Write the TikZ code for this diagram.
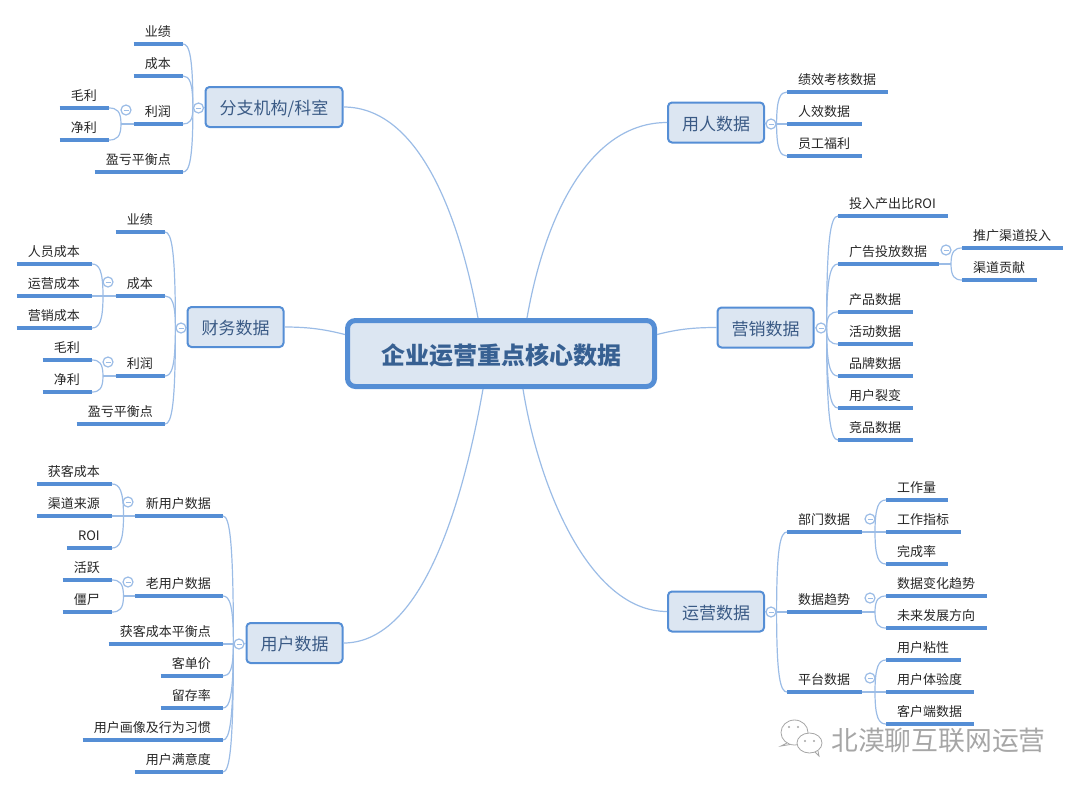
\documentclass[tikz,border=0pt]{standalone}
\usepackage{fontspec}
\setmainfont{Noto Sans CJK SC}
\usetikzlibrary{calc}
\definecolor{linkblue}{HTML}{9BBCE6}
\definecolor{ruleblue}{HTML}{558ED5}
\definecolor{boxfill}{HTML}{DCE6F2}
\definecolor{boxtext}{HTML}{3A5A85}
\definecolor{maintext}{HTML}{376092}
\definecolor{leaftext}{HTML}{262626}
\definecolor{markgray}{HTML}{A6A6A6}
\newcommand{\foldbar}{\rule{5pt}{1pt}}

\begin{document}
\begin{tikzpicture}[x=1pt,y=-1pt,
  core/.style={draw=ruleblue,fill=boxfill,line width=5pt,rounded corners=8pt,minimum width=307pt,minimum height=66pt,inner sep=0pt,text height=22pt,text depth=0pt,text=maintext,font=\fontsize{24}{28}\selectfont\bfseries},
  box/.style={draw=ruleblue,fill=boxfill,line width=2pt,rounded corners=4pt,minimum height=40pt,inner sep=0pt,text height=15pt,text depth=0pt,text=boxtext,font=\fontsize{17}{20}\selectfont},
  leaf/.style={inner xsep=11pt,inner ysep=0pt,text height=12pt,text depth=7.5pt,text=leaftext,font=\fontsize{13}{15}\selectfont,execute at end node={\hspace{1pt}},
    append after command={(\tikzlastnode.south west) edge[rule] (\tikzlastnode.south east)}},
  lleaf/.style={leaf,anchor=south east},
  rleaf/.style={leaf,anchor=south west},
  rule/.style={draw=ruleblue,line width=3.2pt},
  fold/.style={circle,draw=linkblue,fill=white,line width=1.2pt,minimum size=10pt,inner sep=0pt,text=linkblue},
  link/.style={draw=linkblue,line width=1.2pt},
  fork/.style={to path={.. controls ($(\tikztostart)!.8!(\tikztostart |- \tikztotarget)$) and ($(\tikztotarget)!.65!(\tikztostart |- \tikztotarget)$) .. (\tikztotarget)}}]
\useasboundingbox (0,0) rectangle (1080,788);

\node[core] (main) at (501,353.5) {企业运营重点核心数据};

\node[box,minimum width=137pt] (branch) at (274,107) {分支机构/科室};
\node[fold] (fBranch) at (198.5,108) {\foldbar};
\node[lleaf] (brSales) at (183,44) {业绩};
\node[lleaf] (brCost) at (183,76) {成本};
\node[lleaf] (brProfit) at (183,124) {利润};
\node[lleaf] (brBreak) at (183,172) {盈亏平衡点};
\node[fold] (fBrProfit) at (126,110) {\foldbar};
\coordinate (jBrProfit) at (121,124);
\node[lleaf] (brGross) at (109,108) {毛利};
\node[lleaf] (brNet) at (109,140) {净利};

\node[box,minimum width=96pt] (finance) at (235.5,327) {财务数据};
\node[fold] (fFinance) at (181,328) {\foldbar};
\node[lleaf] (fiSales) at (165,232) {业绩};
\node[lleaf] (fiCost) at (165,296) {成本};
\node[lleaf] (fiProfit) at (165,376) {利润};
\node[lleaf] (fiBreak) at (165,424) {盈亏平衡点};
\node[fold] (fFiCost) at (108,282) {\foldbar};
\coordinate (jFiCost) at (103,296);
\node[lleaf] (fiStaff) at (92,264) {人员成本};
\node[lleaf] (fiOper) at (92,296) {运营成本};
\node[lleaf] (fiMarket) at (92,328) {营销成本};
\node[fold] (fFiProfit) at (108,362) {\foldbar};
\coordinate (jFiProfit) at (103,376);
\node[lleaf] (fiGross) at (92,360) {毛利};
\node[lleaf] (fiNet) at (92,392) {净利};

\node[box,minimum width=96pt] (user) at (294.5,643) {用户数据};
\node[fold] (fUser) at (239,644) {\foldbar};
\node[lleaf] (usNew) at (223,516) {新用户数据};
\node[lleaf] (usOld) at (223,596) {老用户数据};
\node[lleaf] (usBalance) at (223,644) {获客成本平衡点};
\node[lleaf] (usPrice) at (223,676) {客单价};
\node[lleaf] (usKeep) at (223,708) {留存率};
\node[lleaf] (usHabit) at (223,740) {用户画像及行为习惯};
\node[lleaf] (usSatis) at (223,772) {用户满意度};
\node[fold] (fUsNew) at (128,502) {\foldbar};
\coordinate (jUsNew) at (123.5,516);
\node[lleaf] (usAcq) at (112,484) {获客成本};
\node[lleaf] (usSource) at (112,516) {渠道来源};
\node[lleaf] (usRoi) at (112,548) {ROI};
\node[fold] (fUsOld) at (128,582) {\foldbar};
\coordinate (jUsOld) at (123.5,596);
\node[lleaf] (usActive) at (112,580) {活跃};
\node[lleaf] (usZombie) at (112,612) {僵尸};

\node[box,minimum width=96pt] (staff) at (716,122.5) {用人数据};
\node[fold] (fStaff) at (771,124) {\foldbar};
\node[rleaf] (stPerf) at (787,92) {绩效考核数据};
\node[rleaf] (stEffect) at (787,124) {人效数据};
\node[rleaf] (stWelfare) at (787,156) {员工福利};

\node[box,minimum width=96pt] (market) at (765.5,327.5) {营销数据};
\node[fold] (fMarket) at (821,328) {\foldbar};
\node[rleaf] (maRoi) at (838,216) {投入产出比ROI};
\node[rleaf] (maAds) at (838,264) {广告投放数据};
\node[rleaf] (maProduct) at (838,312) {产品数据};
\node[rleaf] (maEvent) at (838,344) {活动数据};
\node[rleaf] (maBrand) at (838,376) {品牌数据};
\node[rleaf] (maFission) at (838,408) {用户裂变};
\node[rleaf] (maRival) at (838,440) {竞品数据};
\node[fold] (fMaAds) at (946,250) {\foldbar};
\coordinate (jMaAds) at (951,264);
\node[rleaf] (maInvest) at (962,248) {推广渠道投入};
\node[rleaf] (maShare) at (962,280) {渠道贡献};

\node[box,minimum width=96pt] (oper) at (716,611.5) {运营数据};
\node[fold] (fOper) at (771,612) {\foldbar};
\node[rleaf] (opDept) at (787,532) {部门数据};
\node[rleaf] (opTrend) at (787,612) {数据趋势};
\node[rleaf] (opPlat) at (787,692) {平台数据};
\node[fold] (fOpDept) at (870,519) {\foldbar};
\coordinate (jOpDept) at (875,532);
\node[rleaf] (opLoad) at (886,500) {工作量};
\node[rleaf] (opIndex) at (886,532) {工作指标};
\node[rleaf] (opDone) at (886,564) {完成率};
\node[fold] (fOpTrend) at (870,598) {\foldbar};
\coordinate (jOpTrend) at (875,612);
\node[rleaf] (opChange) at (886,596) {数据变化趋势};
\node[rleaf] (opFuture) at (886,628) {未来发展方向};
\node[fold] (fOpPlat) at (870,678) {\foldbar};
\coordinate (jOpPlat) at (875,692);
\node[rleaf] (opStick) at (886,660) {用户粘性};
\node[rleaf] (opExp) at (886,692) {用户体验度};
\node[rleaf] (opClient) at (886,724) {客户端数据};

\draw[link] (branch.east) .. controls +(77,0) and +(-18,-98) .. ([xshift=-23pt]main.north);
\draw[link] (finance.east) .. controls +(25,0) and +(-20,-5) .. ([yshift=19pt]main.west);
\draw[link] (user.east) .. controls +(82,0) and +(-18,102) .. ([xshift=-18pt]main.south);
\draw[link] (staff.west) .. controls +(-77,0) and +(18,-103) .. ([xshift=26pt]main.north);
\draw[link] (market.west) .. controls +(-25,0) and +(20,-5) .. ([yshift=19pt]main.east);
\draw[link] (oper.west) .. controls +(-77,0) and +(16,100) .. ([xshift=22pt]main.south);

\foreach \from/\to/\kids in {branch.west/fBranch/{brSales,brCost,brProfit,brBreak},finance.west/fFinance/{fiSales,fiCost,fiProfit,fiBreak},user.west/fUser/{usNew,usOld,usBalance,usPrice,usKeep,usHabit,usSatis}}{
  \draw[link] (\from) -- (\to.east);
  \foreach \kid in \kids
    \draw[link] (\to.west) to[fork] (\kid.south east);
}
\foreach \from/\to/\kids in {staff.east/fStaff/{stPerf,stEffect,stWelfare},market.east/fMarket/{maRoi,maAds,maProduct,maEvent,maBrand,maFission,maRival},oper.east/fOper/{opDept,opTrend,opPlat}}{
  \draw[link] (\from) -- (\to.west);
  \foreach \kid in \kids
    \draw[link] (\to.east) to[fork] (\kid.south west);
}
\foreach \from/\to/\kids in {brProfit/jBrProfit/{brGross,brNet},fiCost/jFiCost/{fiStaff,fiOper,fiMarket},fiProfit/jFiProfit/{fiGross,fiNet},usNew/jUsNew/{usAcq,usSource,usRoi},usOld/jUsOld/{usActive,usZombie}}{
  \draw[link] (\from.south west) -- (\to);
  \foreach \kid in \kids
    \draw[link] (\to) to[fork] (\kid.south east);
}
\foreach \from/\to/\kids in {maAds/jMaAds/{maInvest,maShare},opDept/jOpDept/{opLoad,opIndex,opDone},opTrend/jOpTrend/{opChange,opFuture},opPlat/jOpPlat/{opStick,opExp,opClient}}{
  \draw[link] (\from.south east) -- (\to);
  \foreach \kid in \kids
    \draw[link] (\to) to[fork] (\kid.south west);
}

\draw[markgray,line width=.8pt,fill=white] (794.5,732.5) ellipse (13.5 and 12.5);
\draw[markgray,line width=.8pt] (787,743) -- (781,746) -- (790,744.5);
\draw[markgray,line width=.8pt,fill=white] (809.5,743) ellipse (12.5 and 10);
\draw[markgray,line width=.8pt] (815,752) -- (819,756) -- (818,751);
\fill[markgray] (789,727) circle (1.2) (798,727) circle (1.2) (805,741) circle (1.2) (814,741) circle (1.2);
\node[anchor=west,text=markgray,inner sep=0pt,font=\fontsize{26.8}{30}\selectfont] (mark) at (831,740) {北漠聊互联网运营};
\end{tikzpicture}
\end{document}
